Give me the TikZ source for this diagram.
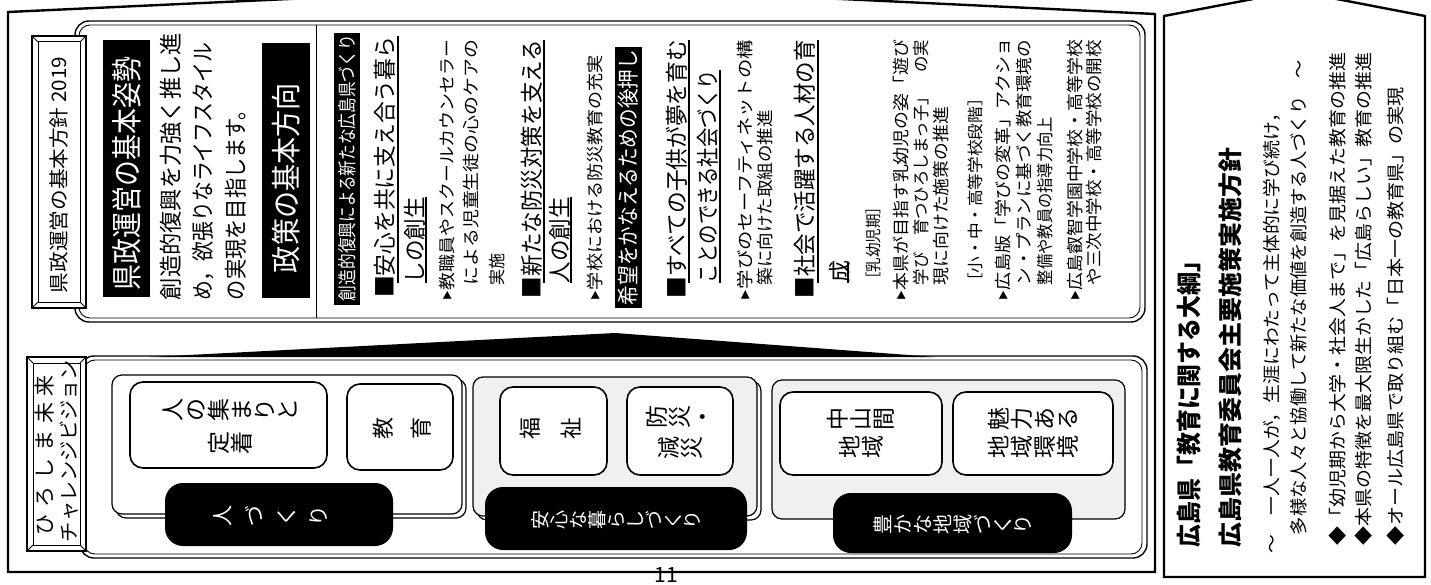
\documentclass[tikz,border=0pt]{standalone}
\usepackage{fontspec}
\usepackage{graphicx}
\setmainfont{Noto Sans CJK JP}
\newcommand{\vchar}[1]{\rotatebox[origin=c]{90}{\rule[-0.12em]{0pt}{1em}\makebox[1em]{#1}}}
\ExplSyntaxOn
\NewDocumentCommand{\vtext}{m}{
  \tl_map_inline:nn {#1} { \vchar{##1} }
}
\NewDocumentCommand{\vspread}{mm}{
  \seq_clear:N \l_tmpa_seq
  \tl_map_inline:nn {#2} { \seq_put_right:Nn \l_tmpa_seq { \vchar{##1} } }
  \makebox[#1][s]{ \seq_use:Nn \l_tmpa_seq { \hfill } }
}
\NewDocumentCommand{\hspread}{mm}{
  \seq_clear:N \l_tmpa_seq
  \tl_map_inline:nn {#2} { \seq_put_right:Nn \l_tmpa_seq { ##1 } }
  \makebox[#1][s]{ \seq_use:Nn \l_tmpa_seq { \hfill } }
}
\ExplSyntaxOff
\newcommand{\tri}{\raisebox{0.15em}{\scalebox{0.55}{▶}}}
\newcommand{\rl}[7][]{\node[rl,#1] (#2) at (#3,#4) {\resizebox{#5pt}{\height}{\fontsize{#6}{#6}\selectfont #7}};}
\tikzset{
  rl/.style={rotate=90, anchor=west, inner sep=0pt, outer sep=0pt},
  vt/.style={inner sep=0pt, outer sep=0pt},
  heavy/.style={draw=black, line width=2.4pt, line join=miter},
  panel/.style={draw=black, line width=1.4pt, rounded corners=14pt},
  panelin/.style={draw=black, line width=0.9pt, rounded corners=11pt},
  grp/.style={draw=black, line width=1.2pt, rounded corners=10pt},
  item/.style={draw=black, line width=1.6pt, rounded corners=13pt, fill=white},
  pill/.style={fill=black, rounded corners=18pt},
  bar/.style={fill=black},
  ul/.style={line width=1.1pt},
  bevel/.style={draw=black, line width=1.2pt, fill=white},
}
\begin{document}
\begin{tikzpicture}[x=1pt,y=-1pt]
\useasboundingbox (0,0) rectangle (1431,585);
\clip (0,0) rectangle (1431,585);
\fill[white] (0,0) rectangle (1431,585);

% outer frames
\draw[heavy] (8,572) -- (8,12) -- (570,-14) -- (1155,14) -- (1155,572) -- cycle;
\draw[heavy] (1164,577) -- (1164,16) -- (1295,-9) -- (1425,16) -- (1425,577) -- cycle;

% top panel
\draw[panel] (75,21) rectangle (1145,322);
\draw[panelin] (79,25) rectangle (1140,318);
\draw[line width=1pt] (316,25) -- (316,318);

% bevel box 1
\draw[bevel] (32,36) rectangle (86,308);
\draw[line width=1pt] (38,42) rectangle (80,302);
\draw[line width=0.8pt] (32,36) -- (38,42) (86,36) -- (80,42) (32,308) -- (38,302) (86,308) -- (80,302);
\rl{k1}{59}{293}{236}{20}{県政運営の基本方針 2019}

\fill[bar] (103,40) rectangle (150,297);
\rl[text=white]{k2}{127}{290}{233}{31}{県政運営の基本姿勢}
\rl{k3}{171}{300}{267}{23}{創造的復興を力強く推し進}
\rl{k4}{203}{300}{257}{23}{め，欲張りなライフスタイル}
\rl{k5}{236}{300}{200}{23}{の実現を目指します。}
\fill[bar] (262,43) rectangle (310,298);
\rl[text=white]{k6}{286}{273}{190}{30}{政策の基本方向}

% list
\fill[bar] (334,33) rectangle (360,305);
\rl[text=white]{h1}{347}{301}{266}{19}{創造的復興による新たな広島県づくり}
\rl{a1}{385}{298}{261}{23}{■安心を共に支え合う暮ら}
\draw[ul] (398,283) -- (398,36);
\rl{a2}{415}{283}{86}{23}{しの創生}
\draw[ul] (426,283) -- (426,197);
\rl{a3}{447}{300}{260}{17}{\tri 教職員やスクールカウンセラー}
\rl{a4}{471}{285}{245}{17}{による児童生徒の心のケアの}
\rl{a5}{497}{285}{32}{17}{実施}
\rl{a6}{532}{298}{258}{23}{■新たな防災対策を支える}
\draw[ul] (544,283) -- (544,40);
\rl{a7}{560}{283}{86}{23}{人の創生}
\draw[ul] (571,283) -- (571,197);
\rl{a8}{595}{300}{245}{17}{\tri 学校における防災教育の充実}
\fill[bar] (615,47) rectangle (642,308);
\rl[text=white]{h2}{628.5}{305}{255}{22}{希望をかなえるための後押し}
\rl{a9}{677}{298}{258}{23}{■すべての子供が夢を育む}
\draw[ul] (689,283) -- (689,40);
\rl{a10}{708}{283}{213}{23}{ことのできる社会づくり}
\draw[ul] (720,283) -- (720,70);
\rl{a11}{745}{300}{260}{17}{\tri 学びのセーフティネットの構}
\rl{a12}{765}{285}{175}{17}{築に向けた取組の推進}
\rl{a13}{805}{298}{258}{23}{■社会で活躍する人材の育}
\draw[ul] (818,283) -- (818,40);
\rl{a14}{840}{283}{22}{23}{成}
\draw[ul] (848,283) -- (848,262);
\rl{a15}{873}{287}{87}{16}{［乳幼児期］}
\rl{a16}{901}{300}{260}{17}{\tri 本県が目指す乳幼児の姿「遊び}
\rl{a17}{921}{285}{245}{17}{学び　育つひろしまっ子」　の実}
\rl{a18}{941}{285}{178}{17}{現に向けた施策の推進}
\rl{a19}{975}{290}{200}{16}{［小・中・高等学校段階］}
\rl{a20}{1003}{300}{262}{17}{\tri 広島版「学びの変革」アクショ}
\rl{a21}{1024}{285}{245}{17}{ン・プランに基づく教育環境の}
\rl{a22}{1045}{285}{168}{17}{整備や教員の指導力向上}
\rl{a23}{1075}{300}{260}{17}{\tri 広島叡智学園中学校・高等学校}
\rl{a24}{1094}{285}{245}{17}{や三次中学校・高等学校の開校}

% bottom panel
\draw[panel] (80,356) rectangle (1147,558);
\draw[panelin] (84,360) rectangle (1142,554);
\fill (150,357) -- (615,333) -- (935,357) -- cycle;

% groups
\draw[grp] (116,379) rectangle (466,518);
\draw[grp, fill=white] (112,375) rectangle (462,514);
\draw[grp] (477,381) rectangle (761,520);
\draw[grp, fill=black!6] (473,377) rectangle (757,516);
\draw[grp, fill=black!6] (772,380) rectangle (1125,519);

\draw[item] (130,382) rectangle (327,468);
\draw[item] (347,384) rectangle (453,470);
\draw[item] (500,387) rectangle (607,475);
\draw[item] (627,387) rectangle (733,475);
\draw[item] (780,392) rectangle (942,475);
\draw[item] (953,392) rectangle (1113,475);

\node[vt] (b1a) at (230,410) {\fontsize{23}{23}\selectfont\vtext{人の集まりと}};
\node[vt] (b1b) at (230,443) {\fontsize{23}{23}\selectfont\vtext{定着}};
\node[vt] (b2) at (402,428) {\fontsize{22}{22}\selectfont\vspread{60pt}{教育}};
\node[vt] (b3) at (551,428) {\fontsize{22}{22}\selectfont\vspread{63pt}{福祉}};
\node[vt] (b4a) at (680,417) {\fontsize{23}{23}\selectfont\vtext{防災・}};
\node[vt] (b4b) at (680,448) {\fontsize{23}{23}\selectfont\vtext{減災}};
\node[vt] (b5a) at (861,419) {\fontsize{23}{23}\selectfont\vtext{中山間}};
\node[vt] (b5b) at (861,447) {\fontsize{23}{23}\selectfont\vtext{地域}};
\node[vt] (b6a) at (1033,419) {\fontsize{23}{23}\selectfont\vtext{魅力ある}};
\node[vt] (b6b) at (1033,447) {\fontsize{23}{23}\selectfont\vtext{地域環境}};

\fill[pill] (165,483) rectangle (393,546);
\fill[pill] (485,487) rectangle (747,550);
\fill[pill] (833,493) rectangle (1072,553);
\node[vt, text=white] (p1) at (271,516) {\fontsize{21}{21}\selectfont\vspread{117pt}{人づくり}};
\node[vt, text=white] (p2) at (616,520) {\fontsize{19}{19}\selectfont\vtext{安心な暮らしづくり}};
\node[vt, text=white] (p3) at (953,524) {\fontsize{20}{20}\selectfont\vtext{豊かな地域づくり}};

% bevel box 2
\draw[bevel] (27,357) rectangle (86,551);
\draw[line width=1pt] (33,363) rectangle (80,545);
\draw[line width=0.8pt] (27,357) -- (33,363) (86,357) -- (80,363) (27,551) -- (33,545) (86,551) -- (80,545);
\node[rl] (v1) at (45,535) {\fontsize{21}{21}\selectfont\hspread{160pt}{ひろしま未来}};
\rl{v2}{69}{542}{182}{20}{チャレンジビジョン}

% page number
\node[vt] (pg) at (666,575) {\fontsize{21}{21}\selectfont 11};

% right panel
\rl{r1}{1189}{547}{297}{25}{\bfseries 広島県「教育に関する大綱」}
\rl{r2}{1230}{547}{399}{24}{\bfseries 広島県教育委員会主要施策実施方針}
\rl{r3}{1272}{553}{449}{18}{〜　一人一人が，生涯にわたって主体的に学び続け，}
\rl{r4}{1299}{535}{475}{18}{多様な人々と協働して新たな価値を創造する人づくり　〜}
\rl{r5}{1338}{545}{492}{18}{◆「幼児期から大学・社会人まで」を見据えた教育の推進}
\rl{r6}{1364}{545}{492}{18}{◆本県の特徴を最大限生かした「広島らしい」教育の推進}
\rl{r7}{1396}{545}{458}{18}{◆オール広島県で取り組む「日本一の教育県」の実現}
\end{tikzpicture}
\end{document}
